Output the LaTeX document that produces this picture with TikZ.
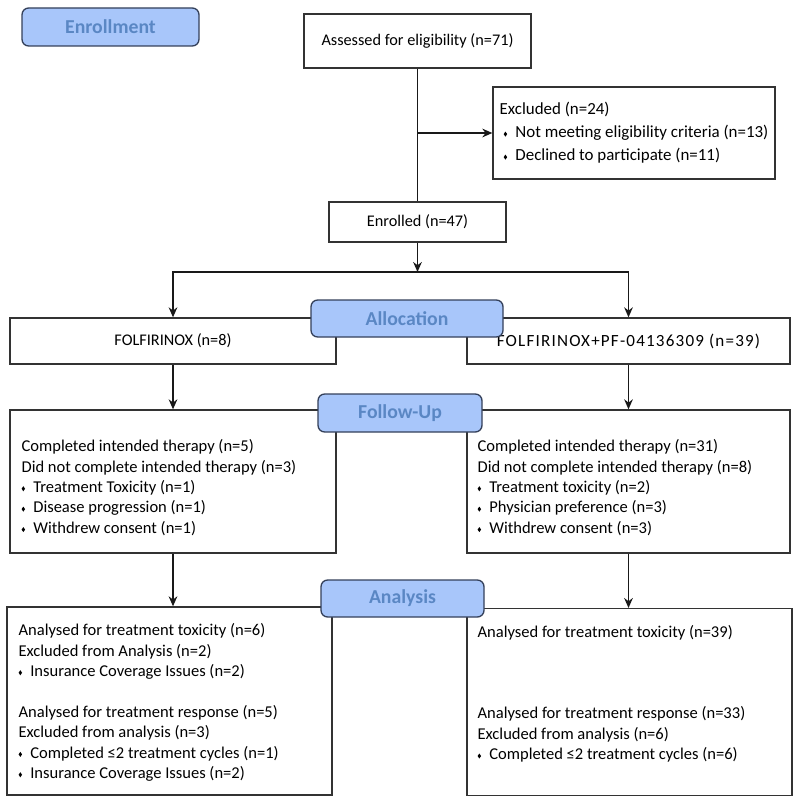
\documentclass[tikz,border=0pt]{standalone}
\usepackage{fontspec}
\setmainfont{Carlito}
\usetikzlibrary{arrows.meta, positioning, calc}
\definecolor{stagefill}{HTML}{A8C6FA}
\definecolor{stagetext}{HTML}{5A87C4}
\definecolor{stageline}{HTML}{34405A}
\tikzstyle{box} = [rectangle, draw=black!80, line width=1pt, fill=white, font=\fontsize{12.2}{15.3}\selectfont]
\tikzstyle{stage} = [rectangle, rounded corners=5pt, draw=stageline, line width=1pt, fill=stagefill, text=stagetext, font=\bfseries\fontsize{14.8}{16}\selectfont]
\tikzstyle{txt} = [anchor=north west, align=left, inner sep=0pt, font=\fontsize{12.4}{15.3}\selectfont]
\tikzstyle{line} = [line width=1.1pt, draw=black!90]
\tikzstyle{arrow} = [line width=1.1pt, draw=black!90, ->, >={Stealth[length=7.5pt, width=6.5pt]}]
\newcommand{\dmd}{\raisebox{0.9pt}{\tikz\fill (0,1.9pt)--(1.3pt,0)--(0,-1.9pt)--(-1.3pt,0)--cycle;}\hspace{6.2pt}}

\begin{document}
\begin{tikzpicture}[x=0.75pt, y=-0.75pt]
\useasboundingbox (0,0) rectangle (800,805);

% boxes
\node (assess) [box, minimum width=170.25pt, minimum height=40.5pt] at (417.5,41) {Assessed for eligibility (n=71)};
\node (excl) [box, minimum width=211.5pt, minimum height=69pt, align=left, font=\fontsize{12.7}{17.3}\selectfont] at (634,133)
  {Excluded (n=24)\\ \hspace{3pt}\dmd Not meeting eligibility criteria (n=13)\\ \hspace{3pt}\dmd Declined to participate (n=11)};
\node (enrolled) [box, minimum width=132.75pt, minimum height=30pt] at (417.5,222) {Enrolled (n=47)};
\node (fol8) [box, minimum width=244.5pt, minimum height=34.5pt] at (173,341) {FOLFIRINOX (n=8)};
\node (fol39) [box, minimum width=242.25pt, minimum height=34.5pt, font=\fontsize{12.8}{15}\selectfont\addfontfeature{LetterSpace=7}] at (628.5,341) {FOLFIRINOX+PF-04136309 (n=39)};
\node (fu8) [box, minimum width=244.5pt, minimum height=107.25pt] at (173,481.5) {};
\node (fu39) [box, minimum width=242.25pt, minimum height=107.25pt] at (628.5,481.5) {};
\node (an8) [box, minimum width=243.75pt, minimum height=141pt] at (169.5,701) {};
\node (an39) [box, minimum width=243.75pt, minimum height=140pt] at (629.5,702) {};

% box texts
\node (fu8txt) [txt] at ($(fu8.north west)+(12,30)$)
  {Completed intended therapy (n=5)\\ Did not complete intended therapy (n=3)\\ \dmd Treatment Toxicity (n=1)\\ \dmd Disease progression (n=1)\\ \dmd Withdrew consent (n=1)};
\node (fu39txt) [txt] at ($(fu39.north west)+(11,30)$)
  {Completed intended therapy (n=31)\\ Did not complete intended therapy (n=8)\\ \dmd Treatment toxicity (n=2)\\ \dmd Physician preference (n=3)\\ \dmd Withdrew consent (n=3)};
\node (an8txt) [txt] at ($(an8.north west)+(12,17)$)
  {Analysed for treatment toxicity (n=6)\\ Excluded from Analysis (n=2)\\ \dmd Insurance Coverage Issues (n=2)\\[15.3pt]
   Analysed for treatment response (n=5)\\ Excluded from analysis (n=3)\\ \dmd Completed ≤2 treatment cycles (n=1)\\ \dmd Insurance Coverage Issues (n=2)};
\node (an39txt) [txt] at ($(an39.north west)+(11,17)$)
  {Analysed for treatment toxicity (n=39)\\[45.9pt]
   Analysed for treatment response (n=33)\\ Excluded from analysis (n=6)\\ \dmd Completed ≤2 treatment cycles (n=6)};

% connectors
\coordinate (split) at (417.5,272);
\draw [line] (assess) -- (enrolled);
\draw [arrow] (assess.south |- excl.west) -- (excl.west);
\draw [arrow] (enrolled) -- (split);
\draw [arrow] (split) -| (fol8);
\draw [arrow] (split) -| (fol39);
\draw [arrow] (fol8) -- (fu8);
\draw [arrow] (fol39) -- (fu39);
\draw [arrow] (fu8.south) -- (fu8.south |- an8.north);
\draw [arrow] (fu39.south) -- (fu39.south |- an39.north);

% stage labels
\node (enroll) [stage, minimum width=132.75pt, minimum height=28.5pt] at (110.5,27) {Enrollment};
\node (alloc) [stage, minimum width=144pt, minimum height=27.75pt] at (407,318.5) {Allocation};
\node (follow) [stage, minimum width=123pt, minimum height=28.5pt] at (400,413) {Follow-Up};
\node (analysis) [stage, minimum width=122.25pt, minimum height=27.75pt] at (402.5,598.5) {Analysis};
\end{tikzpicture}
\end{document}
